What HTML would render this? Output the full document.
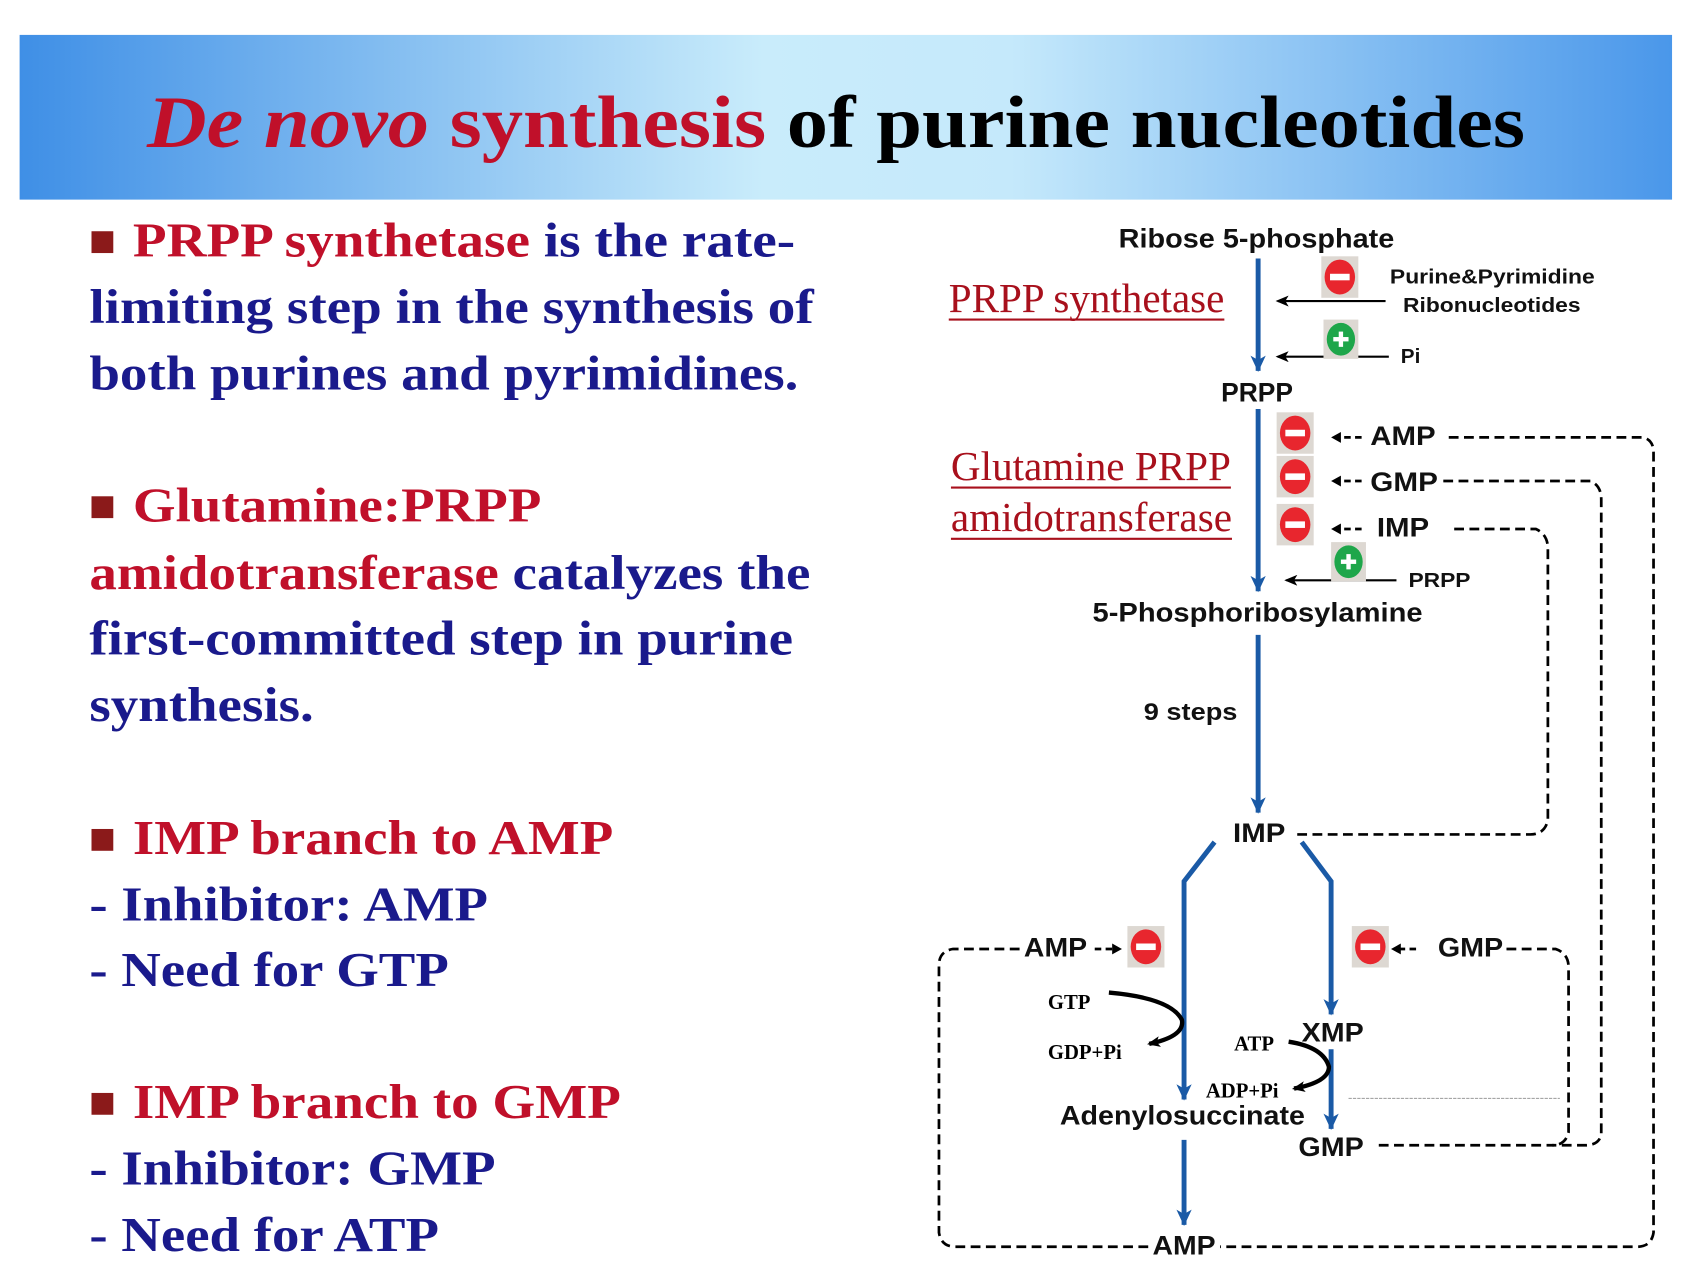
<!DOCTYPE html>
<html><head><meta charset="utf-8"><style>
html,body{margin:0;padding:0;background:#fff;width:1708px;height:1274px;overflow:hidden}
svg{display:block}
.t{font-family:"Liberation Serif",serif;font-weight:bold}
.s{font-family:"Liberation Sans",sans-serif;font-weight:bold;fill:#111}
.u{font-family:"Liberation Serif",serif;fill:#a8101c}
</style></head><body>
<svg width="1708" height="1274" viewBox="0 0 1568 1168" preserveAspectRatio="none" xmlns="http://www.w3.org/2000/svg">
<defs>
<linearGradient id="bg" x1="0" y1="0" x2="1" y2="0">
<stop offset="0" stop-color="#3f8fe6"/><stop offset="0.45" stop-color="#c9ecfb"/><stop offset="0.6" stop-color="#c5e9fb"/><stop offset="1" stop-color="#4a97ea"/>
</linearGradient>
<marker id="ab" markerWidth="16" markerHeight="16" refX="14" refY="8" orient="auto" markerUnits="userSpaceOnUse"><path d="M0,1 L15,8 L0,15 L4,8 z" fill="#1a5aa6"/></marker>
<marker id="ak" markerWidth="12" markerHeight="10" refX="10" refY="5" orient="auto" markerUnits="userSpaceOnUse"><path d="M0,0 L12,5 L0,10 L3,5 z" fill="#000"/></marker>
<g id="minus"><rect x="-17" y="-19" width="34" height="38" fill="#ddd8d2"/><ellipse rx="14" ry="16" fill="#e8262e"/><rect x="-9" y="-3" width="18" height="6" fill="#fff"/></g>
<g id="plus"><rect x="-16" y="-18" width="32" height="36" fill="#ddd8d2"/><ellipse rx="13" ry="15" fill="#1ea64a"/><rect x="-7" y="-2" width="14" height="4" fill="#fff"/><rect x="-2" y="-7" width="4" height="14" fill="#fff"/></g>
</defs>
<rect x="18" y="32" width="1517" height="151" fill="url(#bg)"/>
<text x="135" y="135" class="t" font-size="68" textLength="1265" lengthAdjust="spacingAndGlyphs"><tspan fill="#c0102a" font-style="italic">De novo</tspan><tspan fill="#c0102a"> synthesis</tspan><tspan fill="#000"> of purine nucleotides</tspan></text>

<g class="t" font-size="45" fill="#1a1a8c">
<rect x="84" y="212" width="20" height="20" fill="#8b1a1a"/>
<text x="122" y="235" textLength="608" lengthAdjust="spacingAndGlyphs"><tspan fill="#c0102a">PRPP synthetase</tspan> is the rate-</text>
<text x="82" y="296" textLength="665" lengthAdjust="spacingAndGlyphs">limiting step in the synthesis of</text>
<text x="82" y="357" textLength="651" lengthAdjust="spacingAndGlyphs">both purines and pyrimidines.</text>
<rect x="84" y="455" width="20" height="20" fill="#8b1a1a"/>
<text x="122" y="478" fill="#c0102a" textLength="375" lengthAdjust="spacingAndGlyphs">Glutamine:PRPP</text>
<text x="82" y="540" textLength="662" lengthAdjust="spacingAndGlyphs"><tspan fill="#c0102a">amidotransferase</tspan> catalyzes the</text>
<text x="82" y="600" textLength="646" lengthAdjust="spacingAndGlyphs">first-committed step in purine</text>
<text x="82" y="661" textLength="206" lengthAdjust="spacingAndGlyphs">synthesis.</text>
<rect x="84" y="760" width="20" height="20" fill="#8b1a1a"/>
<text x="122" y="783" fill="#c0102a" textLength="441" lengthAdjust="spacingAndGlyphs">IMP branch to AMP</text>
<text x="82" y="844" textLength="366" lengthAdjust="spacingAndGlyphs">- Inhibitor: AMP</text>
<text x="82" y="904" textLength="330" lengthAdjust="spacingAndGlyphs">- Need for GTP</text>
<rect x="84" y="1002" width="20" height="20" fill="#8b1a1a"/>
<text x="122" y="1025" fill="#c0102a" textLength="448" lengthAdjust="spacingAndGlyphs">IMP branch to GMP</text>
<text x="82" y="1086" textLength="373" lengthAdjust="spacingAndGlyphs">- Inhibitor: GMP</text>
<text x="82" y="1147" textLength="321" lengthAdjust="spacingAndGlyphs">- Need for ATP</text>
</g>

<!-- diagram -->
<g stroke="#1a5aa6" stroke-width="4.5" fill="none" marker-end="url(#ab)">
<line x1="1155" y1="237" x2="1155" y2="340"/>
<line x1="1155" y1="375" x2="1155" y2="542"/>
<line x1="1155" y1="582" x2="1155" y2="745"/>
<polyline points="1115,772 1087,808 1087,1008"/>
<polyline points="1195,772 1222,808 1222,930"/>
<line x1="1222" y1="962" x2="1222" y2="1035"/>
<line x1="1087" y1="1045" x2="1087" y2="1123"/>
</g>
<g stroke="#000" stroke-width="2" marker-end="url(#ak)">
<line x1="1272" y1="276" x2="1173" y2="276"/>
<line x1="1275" y1="327" x2="1173" y2="327"/>
<line x1="1282" y1="532" x2="1181" y2="532"/>
</g>
<g stroke="#000" stroke-width="2.5" fill="none" stroke-dasharray="9,5">
<path d="M1330,401 H1508 Q1518,403 1518,415 V1130 Q1516,1143 1503,1143 H1120"/>
<path d="M1325,441 H1460 Q1470,445 1470,458 V1040 Q1468,1050 1455,1050 H1262"/>
<path d="M1335,485 H1410 Q1421,490 1421,503 V752 Q1418,765 1405,765 H1188"/>
<path d="M936,870 H875 Q862,872 862,885 V1130 Q864,1143 877,1143 H1055"/>
<path d="M1383,870 H1428 Q1440,874 1440,887 V1038 Q1437,1050 1425,1050"/>
<path d="M1250,401 H1228 M1250,441 H1228 M1250,485 H1228 M1300,870 H1282 M1005,870 H1022" stroke-dasharray="6,4"/>
</g>
<g fill="#000">
<path d="M1222,401 l9,-5 v10z M1222,441 l9,-5 v10z M1222,485 l9,-5 v10z M1277,870 l9,-5 v10z M1030,870 l-9,-5 v10z"/>
</g>
<line x1="1238" y1="1007" x2="1432" y2="1007" stroke="#999" stroke-width="1" stroke-dasharray="3,1"/>
<g stroke="#000" stroke-width="4" fill="none">
<path d="M1018,910 Q1075,915 1085,935 Q1088,950 1055,957" marker-end="url(#ak)"/>
<path d="M1183,955 Q1215,960 1220,978 Q1220,992 1188,998" marker-end="url(#ak)"/>
</g>
<use href="#minus" x="1230" y="254"/><use href="#plus" x="1231" y="311"/>
<use href="#minus" x="1189" y="397"/><use href="#minus" x="1189" y="437"/><use href="#minus" x="1189" y="481"/>
<use href="#plus" x="1238" y="515"/>
<use href="#minus" x="1052" y="868"/><use href="#minus" x="1258" y="868"/>

<g class="s" font-size="25">
<text x="1027" y="227" textLength="253" lengthAdjust="spacingAndGlyphs">Ribose 5-phosphate</text>
<text x="1121" y="368" textLength="66" lengthAdjust="spacingAndGlyphs">PRPP</text>
<text x="1003" y="570" textLength="303" lengthAdjust="spacingAndGlyphs">5-Phosphoribosylamine</text>
<text x="1132" y="772" textLength="48" lengthAdjust="spacingAndGlyphs">IMP</text>
<text x="973" y="1031" textLength="225" lengthAdjust="spacingAndGlyphs">Adenylosuccinate</text>
<text x="1058" y="1150" textLength="58" lengthAdjust="spacingAndGlyphs">AMP</text>
<text x="1192" y="1060" textLength="60" lengthAdjust="spacingAndGlyphs">GMP</text>
<text x="1195" y="955" textLength="57" lengthAdjust="spacingAndGlyphs">XMP</text>
<text x="1258" y="408" textLength="60" lengthAdjust="spacingAndGlyphs">AMP</text>
<text x="1258" y="450" textLength="62" lengthAdjust="spacingAndGlyphs">GMP</text>
<text x="1264" y="492" textLength="48" lengthAdjust="spacingAndGlyphs">IMP</text>
<text x="940" y="877" textLength="58" lengthAdjust="spacingAndGlyphs">AMP</text>
<text x="1320" y="877" textLength="60" lengthAdjust="spacingAndGlyphs">GMP</text>
<text x="1050" y="660" font-size="22" textLength="86" lengthAdjust="spacingAndGlyphs">9 steps</text>
<text x="1276" y="260" font-size="19" textLength="188" lengthAdjust="spacingAndGlyphs">Purine&amp;Pyrimidine</text>
<text x="1288" y="286" font-size="19" textLength="163" lengthAdjust="spacingAndGlyphs">Ribonucleotides</text>
<text x="1286" y="333" font-size="19">Pi</text>
<text x="1293" y="538" font-size="19" textLength="57" lengthAdjust="spacingAndGlyphs">PRPP</text>
</g>
<g class="t" font-size="19" fill="#000">
<text x="962" y="925">GTP</text>
<text x="962" y="971">GDP+Pi</text>
<text x="1133" y="963">ATP</text>
<text x="1107" y="1006">ADP+Pi</text>
</g>
<g class="u" font-size="38">
<text x="871" y="286" textLength="253" lengthAdjust="spacingAndGlyphs">PRPP synthetase</text>
<text x="873" y="440" textLength="257" lengthAdjust="spacingAndGlyphs">Glutamine PRPP</text>
<text x="873" y="487" textLength="258" lengthAdjust="spacingAndGlyphs">amidotransferase</text>
</g>
<g stroke="#a8101c" stroke-width="2">
<line x1="871" y1="293" x2="1124" y2="293"/>
<line x1="873" y1="447" x2="1130" y2="447"/>
<line x1="873" y1="494" x2="1131" y2="494"/>
</g>
</svg>
</body></html>
